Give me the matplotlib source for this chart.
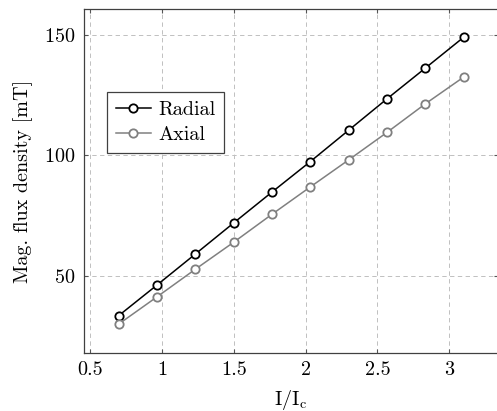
import numpy as np
import matplotlib
matplotlib.use("Agg")
import matplotlib.pyplot as plt

# data
current_ratio = [0.7, 0.967, 1.233, 1.5, 1.767, 2.033, 2.3, 2.567, 2.833, 3.1]
radial = [33.6, 46.3, 59.1, 72.0, 84.8, 97.4, 110.4, 123.4, 136.1, 148.9]
axial = [30.1, 41.4, 52.8, 64.0, 75.6, 86.9, 98.1, 109.5, 121.3, 132.4]
x_ticks = [0.5, 1, 1.5, 2, 2.5, 3]
x_tick_labels = ['0.5', '1', '1.5', '2', '2.5', '3']
y_ticks = [50, 100, 150]

plt.rcParams['font.family'] = 'serif'
plt.rcParams['font.serif'] = ['cmr10', 'DejaVu Serif']
plt.rcParams['mathtext.fontset'] = 'cm'
plt.rcParams['axes.formatter.use_mathtext'] = True

fs = 14.5

fig = plt.figure(figsize=(4.97, 4.11), dpi=100)
ax = fig.add_axes([84 / 497, 58 / 411, 414 / 497, 344 / 411])

ax.plot(current_ratio, radial, color='black', lw=1.1, marker='o', ms=6,
        mfc='white', mec='black', mew=1.3, label='Radial')
ax.plot(current_ratio, axial, color='#808080', lw=1.1, marker='o', ms=6,
        mfc='white', mec='#808080', mew=1.3, label='Axial')

ax.set_xlim(0.458, 3.339)
ax.set_ylim(18.1, 160.6)
ax.set_xticks(x_ticks)
ax.set_xticklabels(x_tick_labels)
ax.set_yticks(y_ticks)
ax.tick_params(direction='in', length=3, color='#555555', top=True, right=True,
               labelsize=fs, pad=6)

ax.grid(True, color='#c0c0c0', linestyle=(0, (4.5, 3.5)), linewidth=0.7)
for s in ax.spines.values():
    s.set_color('#404040')
    s.set_linewidth(0.9)

ax.set_xlabel(r'I/I$_\mathrm{c}$', fontsize=fs, labelpad=6)
ax.set_ylabel('Mag. flux density [mT]', fontsize=fs, labelpad=8)

leg = ax.legend(loc='upper left', bbox_to_anchor=(0.055, 0.76), fancybox=False,
                framealpha=1, edgecolor='#404040', handlelength=1.75,
                handletextpad=0.35, borderpad=0.45, labelspacing=0.35,
                borderaxespad=0, fontsize=fs)
leg.get_frame().set_linewidth(0.9)

fig.savefig('out.png', dpi=100)
